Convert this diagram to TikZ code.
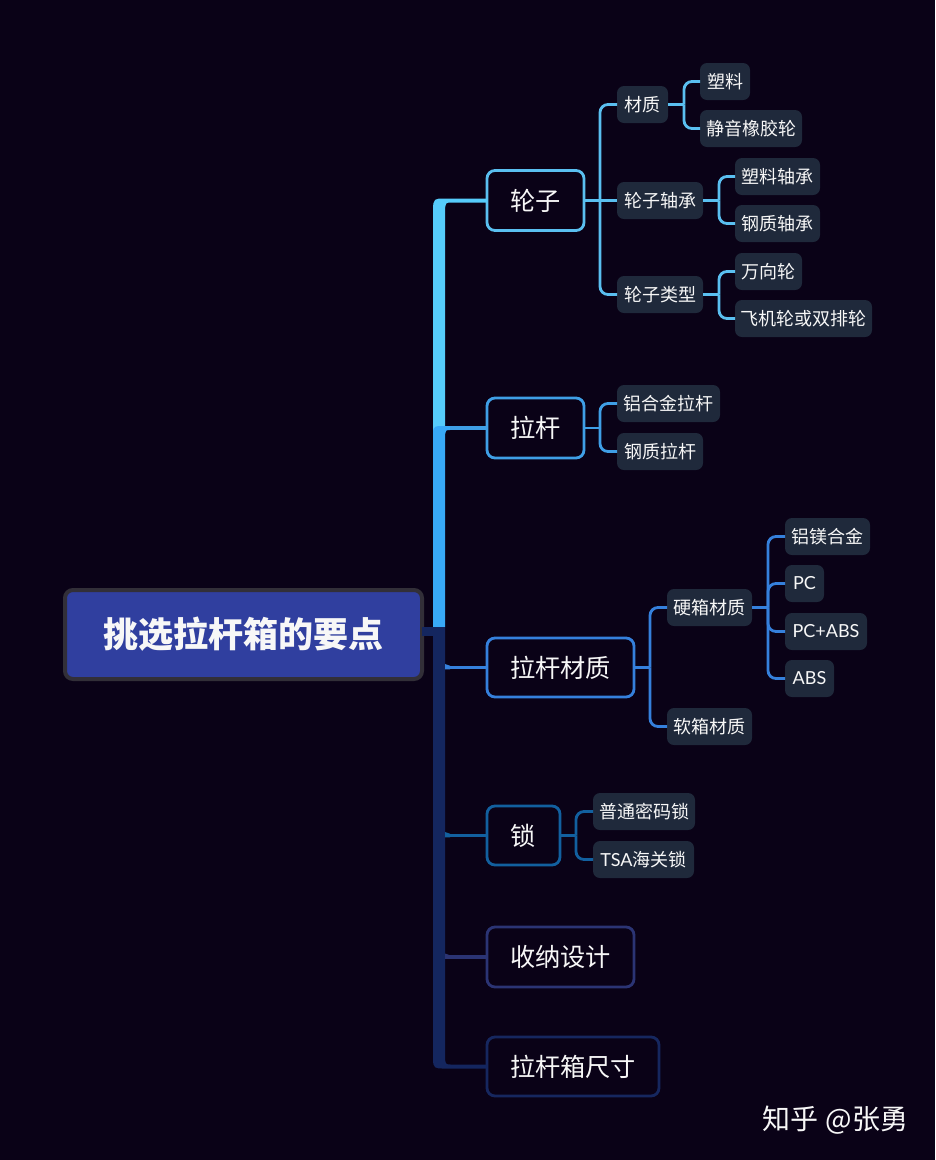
\documentclass[tikz,border=0pt]{standalone}
\usepackage{fontspec}
\setmainfont{Noto Sans CJK SC}
\newfontfamily\lat{Lato}
\usetikzlibrary{calc}
\definecolor{bgc}{HTML}{0A0217}
\definecolor{cA}{HTML}{56CCFB}
\definecolor{cAl}{HTML}{5ABFF0}
\definecolor{cB}{HTML}{38A9F7}
\definecolor{cBl}{HTML}{3F9FE6}
\definecolor{cC}{HTML}{3580DC}
\definecolor{cD}{HTML}{12609F}
\definecolor{cE}{HTML}{2B3474}
\definecolor{cF}{HTML}{16275F}
\definecolor{trunkc}{HTML}{14265F}
\definecolor{leaff}{HTML}{1F293B}
\definecolor{rootf}{HTML}{303F9F}
\definecolor{rootb}{HTML}{322F38}
\definecolor{txt}{HTML}{F7F7F7}
\tikzset{
  x=1pt,y=-1pt,
  box/.style={inner sep=0pt,outer sep=0pt,align=center,text=txt},
  topbox/.style={box,draw=#1,line width=2.8pt,fill=bgc,rounded corners=8pt,font=\fontsize{25.2}{25.2}\selectfont},
  leaf/.style={box,fill=leaff,rounded corners=7pt,font=\fontsize{18}{18}\selectfont},
  rootbox/.style={box,draw=rootb,line width=4pt,fill=rootf,rounded corners=8pt,font=\fontsize{35}{35}\selectfont\bfseries},
  wire/.style={draw=#1,line width=2.8pt},
  stem/.style={draw=#1,line width=3.6pt},
  arm/.style={draw=#1,line width=2.8pt,rounded corners=8pt},
}
% \nd{name}{left}{right}{top}{bottom}{style}{text}
\newcommand{\nd}[7]{\node[#6,minimum width={#3-#2},minimum height={#5-#4}] (#1) at ({(#2+#3)/2},{(#4+#5)/2}) {#7};}
\newcommand{\ndb}[7]{\node[#6,minimum width={#3-#2-2},minimum height={#5-#4-2}] (#1) at ({(#2+#3)/2},{(#4+#5)/2}) {#7};}
% \armto{parent}{child}{colour}
\newcommand{\armto}[3]{\draw[wire=#3] (#1.east) -- ($(#1.east)+(16,0)$);\draw[arm=#3] ($(#1.east)+(16,0)$) |- (#2.west);}
% \stemto{node}{colour}: branch from the trunk with its small flare
\newcommand{\stemto}[2]{\draw[stem=#2] (tR |- #1.west) -- (#1.west);\fill[#2] ($(tR |- #1.west)+(0,-3.5)$) -- ($(tR |- #1.west)+(5,-1.8)$) -- ($(tR |- #1.west)+(5,1.8)$) -- ($(tR |- #1.west)+(0,1.8)$) -- cycle;}
\begin{document}
\begin{tikzpicture}
\useasboundingbox (0,0) rectangle (935,1160);
\fill[bgc] (0,0) rectangle (935,1160);
\coordinate (tL) at (433,632);
\coordinate (tR) at (445,632);
% nodes
\ndb{root}{64}{423}{589}{680}{rootbox}{\raisebox{2pt}{挑选拉杆箱的要点}}
\ndb{wheel}{486}{585}{169.5}{231.5}{topbox=cAl}{轮子}
\ndb{rod}{486}{585}{397}{459}{topbox=cBl}{拉杆}
\ndb{mat}{486}{635}{637}{698}{topbox=cC}{拉杆材质}
\ndb{lock}{486}{561}{805}{866}{topbox=cD}{锁}
\ndb{store}{486}{635}{926}{988}{topbox=cE}{收纳设计}
\ndb{size}{486}{660}{1036}{1097}{topbox=cF}{拉杆箱尺寸}
\nd{wm}{617}{668}{86}{123}{leaf}{材质}
\nd{wmA}{700}{750}{63}{100}{leaf}{塑料}
\nd{wmB}{700}{802}{110}{147}{leaf}{静音橡胶轮}
\nd{wb}{617}{703}{182}{219}{leaf}{轮子轴承}
\nd{wbA}{735}{820}{158}{195}{leaf}{塑料轴承}
\nd{wbB}{735}{820}{205}{242}{leaf}{钢质轴承}
\nd{wt}{617}{703}{276}{313}{leaf}{轮子类型}
\nd{wtA}{735}{802}{253}{290}{leaf}{万向轮}
\nd{wtB}{735}{872}{300}{337}{leaf}{飞机轮或双排轮}
\nd{rA}{617}{720}{385}{422}{leaf}{铝合金拉杆}
\nd{rB}{617}{703}{433}{470}{leaf}{钢质拉杆}
\nd{hard}{667}{752}{589}{626}{leaf}{硬箱材质}
\nd{soft}{667}{752}{708}{745}{leaf}{软箱材质}
\nd{hA}{785}{870}{518}{555}{leaf}{铝镁合金}
\nd{hB}{785}{824}{565}{602}{leaf}{{\lat PC}}
\nd{hC}{785}{867}{613}{650}{leaf}{{\lat PC+ABS}}
\nd{hD}{785}{834}{660}{697}{leaf}{{\lat ABS}}
\nd{lA}{593}{695}{793}{830}{leaf}{普通密码锁}
\nd{lB}{593}{694}{841}{878}{leaf}{{\lat TSA}海关锁}
\node[box,anchor=east,font=\fontsize{28}{28}\selectfont] (mark) at (908.5,1120.5) {知乎\hspace{8pt}@张勇};
% trunk: top part
\fill[cA] ($(tL |- rod.west)+(0,9)$) -- ($(tL |- wheel.west)+(0,9)$) .. controls ($(tL |- wheel.west)+(0,-2)$) and ($(tL |- wheel.west)+(2,-2)$) .. ($(tL |- wheel.west)+(11,-2)$) -- ($(wheel.west)+(0,-2)$) -- ($(wheel.west)+(0,2)$) -- ($(tR |- wheel.west)+(7,2)$) .. controls ($(tR |- wheel.west)+(1,2)$) .. ($(tR |- wheel.west)+(0,8)$) -- ($(tR |- rod.west)+(0,-2)$) -- cycle;
% trunk: middle part
\fill[cB] ($(tL)+(0,-5)$) -- ($(tL |- rod.west)+(0,5)$) .. controls ($(tL |- rod.west)+(0,-2)$) and ($(tL |- rod.west)+(3,-2)$) .. ($(tL |- rod.west)+(9,-2)$) -- ($(tR |- rod.west)+(5,-2)$) -- ($(tR |- rod.west)+(5,2)$) .. controls ($(tR |- rod.west)+(1,2)$) .. ($(tR |- rod.west)+(0,7)$) -- ($(tR)+(0,-5)$) -- cycle;
% trunk: lower part
\fill[trunkc] ($(tL)+(0,-5)$) -- ($(tL |- size.west)+(0,-8)$) .. controls ($(tL |- size.west)+(0,2)$) and ($(tL |- size.west)+(2,2)$) .. ($(tL |- size.west)+(11,2)$) -- ($(size.west)+(0,2)$) -- ($(size.west)+(0,-2)$) -- ($(tR |- size.west)+(6,-2)$) .. controls ($(tR |- size.west)+(1,-2)$) .. ($(tR |- size.west)+(0,-7)$) -- ($(tR)+(0,-5)$) -- cycle;
\fill[trunkc] ($(root.east)+(0,-8)$) rectangle ($(tL)+(0,4)$);
\draw[stem=cBl] ($(tR |- rod.west)+(5,0)$) -- (rod.west);
\stemto{mat}{cC}
\stemto{lock}{cD}
\stemto{store}{cE}
% wheels
\armto{wheel}{wm}{cAl}
\draw[wire=cAl] (wheel.east) -- (wb.west);
\armto{wheel}{wt}{cAl}
\armto{wm}{wmA}{cAl}
\armto{wm}{wmB}{cAl}
\armto{wb}{wbA}{cAl}
\armto{wb}{wbB}{cAl}
\armto{wt}{wtA}{cAl}
\armto{wt}{wtB}{cAl}
% rod
\armto{rod}{rA}{cBl}
\armto{rod}{rB}{cBl}
% material
\armto{mat}{hard}{cC}
\armto{mat}{soft}{cC}
\armto{hard}{hA}{cC}
\armto{hard}{hB}{cC}
\armto{hard}{hC}{cC}
\armto{hard}{hD}{cC}
% lock
\armto{lock}{lA}{cD}
\armto{lock}{lB}{cD}
\end{tikzpicture}
\end{document}
